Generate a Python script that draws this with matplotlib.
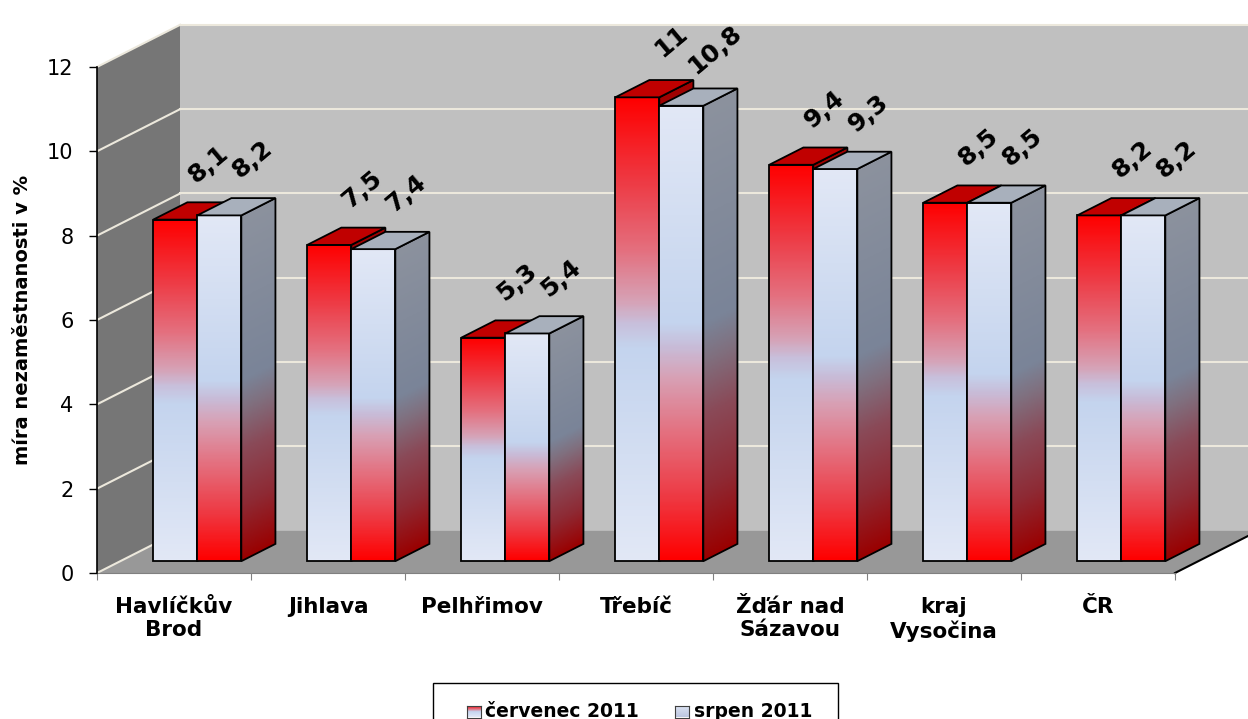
import numpy as np
import matplotlib
matplotlib.use('Agg')
import matplotlib.pyplot as plt
from matplotlib.patches import Polygon, Rectangle
from matplotlib.colors import LinearSegmentedColormap

# ---------------- data ----------------
categories = ['Havlíčkův\nBrod', 'Jihlava', 'Pelhřimov', 'Třebíč',
              'Žďár nad\nSázavou', 'kraj\nVysočina', 'ČR']
cervenec = [8.1, 7.5, 5.3, 11.0, 9.4, 8.5, 8.2]
srpen = [8.2, 7.4, 5.4, 10.8, 9.3, 8.5, 8.2]
series_names = ['červenec 2011', 'srpen 2011']
yticks = [0, 2, 4, 6, 8, 10, 12]
ylabel = 'míra nezaměstnanosti v %'

# ---------------- styles ----------------
red_front = LinearSegmentedColormap.from_list('rf', [
    (0.0, '#ff0000'), (0.18, '#ee3a44'), (0.33, '#e4707f'), (0.44, '#d6a2b6'),
    (0.49, '#c8c0dc'), (0.54, '#c4d4ee'), (1.0, '#e2e8f6')])
light_front = LinearSegmentedColormap.from_list('lf', [
    (0.0, '#e2e8f6'), (0.48, '#c4d4ee'), (0.53, '#c8bcd8'), (0.6, '#d8a0b4'),
    (0.72, '#e4707f'), (0.86, '#ee3a44'), (1.0, '#ff0000')])
light_side = LinearSegmentedColormap.from_list('ls', [
    (0.0, '#8c929e'), (0.48, '#7a8498'), (0.56, '#80707f'), (0.68, '#8a4a58'),
    (0.84, '#8e2a34'), (1.0, '#9a0000')])
red_side = LinearSegmentedColormap.from_list('rs', [
    (0.0, '#a00000'), (0.2, '#8e2a34'), (0.4, '#8a5060'), (0.5, '#7a8498'),
    (1.0, '#8c929e')])
series_style = [
    dict(front=red_front, side=red_side, top='#c00000'),
    dict(front=light_front, side=light_side, top='#a8b0bc'),
]

W, H, DPI = 1248, 719, 100
fig = plt.figure(figsize=(W / DPI, H / DPI), dpi=DPI)
ax = fig.add_axes([0, 0, 1, 1])
PX_X, PX_Y = 154.0, 42.17       # pixels per category / per unit
X0_PX, Y0_PX = 97.0, 146.0      # origin position (from left / bottom)
XLIM = (-X0_PX / PX_X, (W - X0_PX) / PX_X)
YLIM = (-Y0_PX / PX_Y, (H - Y0_PX) / PX_Y)

n = len(categories)
ymax = yticks[-1]
DX, DY = 0.54, 1.0              # full depth offset in data units
d0, dd = 0.28, 0.41             # bar front depth / bar depth (fraction)
bw = 0.286                      # bar width (category units)
EDGE_LW = 1.3

# ---------------- walls / floor ----------------
ax.add_patch(Polygon([(0, 0), (0, ymax), (DX, ymax + DY), (DX, DY)],
                     fc='#767676', ec='none', zorder=1))
ax.add_patch(Polygon([(DX, DY), (DX, ymax + DY), (n + DX, ymax + DY), (n + DX, DY)],
                     fc='#c0c0c0', ec='none', zorder=1))
ax.add_patch(Polygon([(0, 0), (n, 0), (n + DX, DY), (DX, DY)],
                     fc='#989898', ec='none', zorder=1))
ax.plot([n, n + DX], [0, DY], color='black', lw=1.5, zorder=2, clip_on=False)
for v in yticks:
    ax.plot([0, DX], [v, v + DY], color='#ece8dc', lw=1.5, zorder=1.5)
    if v > 0:
        ax.plot([DX, n + DX], [v + DY, v + DY], color='#ece8dc', lw=1.5, zorder=1.5)


def fmt(v):
    return f'{v:g}'.replace('.', ',')


# ---------------- bars ----------------
z = 3
for i in range(n):
    xc = i + 0.5 + d0 * DX
    yb = d0 * DY
    for j, vals in enumerate([cervenec, srpen]):
        st = series_style[j]
        v = vals[i]
        xl = xc - bw + j * bw
        xr = xl + bw
        yt = yb + v
        ddx, ddy = dd * DX, dd * DY
        # front face
        arr = st['front'](np.linspace(0, 1, 300))[:, None, :]
        ax.imshow(arr, extent=(xl, xr, yb, yt), origin='upper', aspect='auto',
                  interpolation='bilinear', zorder=z)
        ax.add_patch(Rectangle((xl, yb), bw, v, fill=False, ec='black',
                               lw=EDGE_LW, zorder=z + 0.5))
        # side face
        ny, nx = 300, 24
        Y = yb + (yt + ddy - yb) * (np.arange(ny) + 0.5) / ny
        T = (np.arange(nx) + 0.5) / nx
        s = (Y[:, None] - yb - T[None, :] * ddy) / (yt - yb)
        img = st['side'](np.clip(1 - s, 0, 1))
        side_pts = [(xr, yb), (xr, yt), (xr + ddx, yt + ddy), (xr + ddx, yb + ddy)]
        im = ax.imshow(img, extent=(xr, xr + ddx, yb, yt + ddy), origin='lower',
                       aspect='auto', interpolation='bilinear', zorder=z)
        clip = Polygon(side_pts, closed=True, transform=ax.transData)
        im.set_clip_path(clip)
        ax.add_patch(Polygon(side_pts, fill=False, ec='black', lw=EDGE_LW,
                             zorder=z + 0.5))
        # top face
        top_pts = [(xl, yt), (xr, yt), (xr + ddx, yt + ddy), (xl + ddx, yt + ddy)]
        ax.add_patch(Polygon(top_pts, fc=st['top'], ec='black', lw=EDGE_LW,
                             zorder=z + 0.5))
        # label
        ax.annotate(fmt(v), xy=((xl + xr) / 2, yt), xytext=(24, 40),
                    textcoords='offset points', ha='center', va='center',
                    rotation=40, fontsize=18, fontweight='bold', zorder=50)
        z += 1

# ---------------- axes ----------------
for sp in ['top', 'right']:
    ax.spines[sp].set_visible(False)
ax.spines['left'].set_position(('data', 0))
ax.spines['left'].set_bounds(0, ymax)
ax.spines['left'].set_linewidth(1.2)
ax.spines['left'].set_zorder(40)
ax.spines['bottom'].set_position(('data', 0))
ax.spines['bottom'].set_bounds(0, n)
ax.spines['bottom'].set_color('#808080')
ax.spines['bottom'].set_zorder(2)
ax.set_yticks(yticks)
ax.set_yticklabels([str(t) for t in yticks], fontsize=15)
ax.tick_params(axis='y', length=6, width=1, pad=11)
ax.set_xticks(range(n + 1))
ax.set_xticklabels([''] * (n + 1))
ax.tick_params(axis='x', which='major', length=5, color='#808080')
ax.set_xticks(np.arange(n) + 0.5, minor=True)
ax.set_xticklabels(categories, minor=True, fontsize=15.5, fontweight='bold')
ax.tick_params(axis='x', which='minor', length=0, pad=17)
ax.text(-0.487, ymax / 2, ylabel, rotation=90, ha='center', va='center',
        fontsize=14, fontweight='bold')
ax.patch.set_visible(False)
ax.set_xlim(*XLIM)
ax.set_ylim(*YLIM)
ax.set_aspect('auto')

# ---------------- legend ----------------
fig.add_artist(Rectangle((433 / W, -0.02), (838 - 433) / W, (719 - 683) / H + 0.02,
                         transform=fig.transFigure, fill=False, ec='black', lw=1))
legend_cmaps = [red_front, LinearSegmentedColormap.from_list('lg', ['#dfe5f4', '#bcc6e0'])]
marker_x = [467, 675]
text_x = [485, 694]
for k in range(2):
    mx = fig.add_axes([marker_x[k] / W, 1.5 / H, 14 / W, 12 / H])
    mx.imshow(legend_cmaps[k](np.linspace(0, 1, 50))[:, None, :], aspect='auto')
    mx.set_xticks([])
    mx.set_yticks([])
    for sp in mx.spines.values():
        sp.set_color('#404040')
        sp.set_linewidth(0.8)
    fig.text(text_x[k] / W, 2 / H, series_names[k], ha='left', va='baseline',
             fontsize=13.5, fontweight='bold')

fig.savefig('out.png', dpi=DPI)
